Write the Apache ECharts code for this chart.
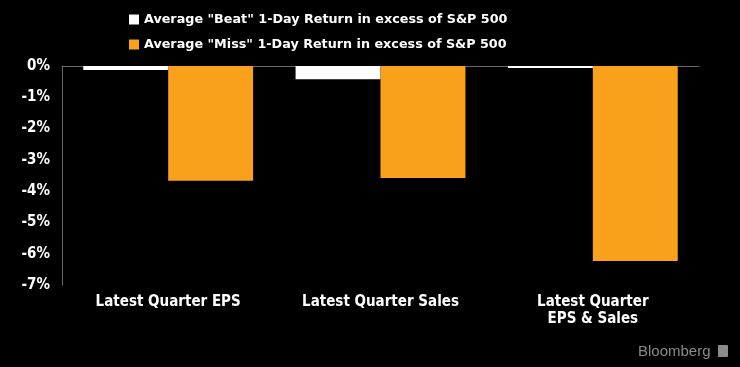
<!DOCTYPE html>
<html><head><meta charset="utf-8">
<script src="https://cdn.jsdelivr.net/npm/echarts@6/dist/echarts.min.js"></script>
<style>html,body{margin:0;padding:0;background:#000;}#c{width:740px;height:367px;}</style>
</head><body><div id="c"></div>
<script>
const categories = ['Latest Quarter EPS', 'Latest Quarter Sales', 'Latest Quarter\nEPS & Sales'];
const beatValues = [-0.13, -0.42, -0.06];
const missValues = [-3.67, -3.58, -6.23];
const seriesNames = ['Average "Beat" 1-Day Return in excess of S&P 500', 'Average "Miss" 1-Day Return in excess of S&P 500'];
const chart = echarts.init(document.getElementById('c'));
const brand = [
  { type: 'text', left: 638, top: 344, style: { text: 'Bloomberg', fill: '#8a8a8a', font: '15px "Liberation Sans"' } },
  { type: 'rect', left: 718, top: 345, shape: { width: 10, height: 12, r: 1 }, style: { fill: '#8a8a8a' } }
];
chart.setOption({
  backgroundColor: '#000',
  animation: false,
  legend: {
    orient: 'vertical', left: 124, top: 8, itemWidth: 10, itemHeight: 10, itemGap: 12,
    icon: 'rect',
    textStyle: { color: '#fff', fontSize: 12.75, fontWeight: 'bold', fontFamily: 'DejaVu Sans' },
    data: seriesNames
  },
  grid: { left: 62, right: 41, top: 66, bottom: 82 },
  xAxis: {
    type: 'category', data: categories, position: 'top',
    axisLine: { lineStyle: { color: '#666' } },
    axisTick: { show: false },
    axisLabel: { show: false }
  },
  yAxis: {
    type: 'value', min: -7, max: 0, interval: 1,
    axisLine: { show: true, lineStyle: { color: '#666' } },
    axisTick: { show: false },
    splitLine: { show: false },
    axisLabel: { color: '#fff', fontSize: 15, fontWeight: 'bold', fontFamily: 'DejaVu Sans Condensed', formatter: '{value}%', margin: 12 }
  },
  graphic: brand,
  series: [
    { name: seriesNames[0], type: 'bar', data: beatValues, barGap: '0%', barCategoryGap: '20%', itemStyle: { color: '#ffffff' } },
    { name: seriesNames[1], type: 'bar', data: missValues, barGap: '0%', barCategoryGap: '20%', itemStyle: { color: '#f9a11b' } }
  ]
});
const labels = categories.map((c, i) => {
  const p = chart.convertToPixel({ xAxisIndex: 0 }, i);
  return { type: 'text', x: p, y: 294, style: { text: c, fill: '#fff', font: 'bold 15px "DejaVu Sans Condensed"', align: 'center', verticalAlign: 'top', lineHeight: 17 } };
});
chart.setOption({ graphic: brand.concat(labels) }, { replaceMerge: ['graphic'] });
</script></body></html>
